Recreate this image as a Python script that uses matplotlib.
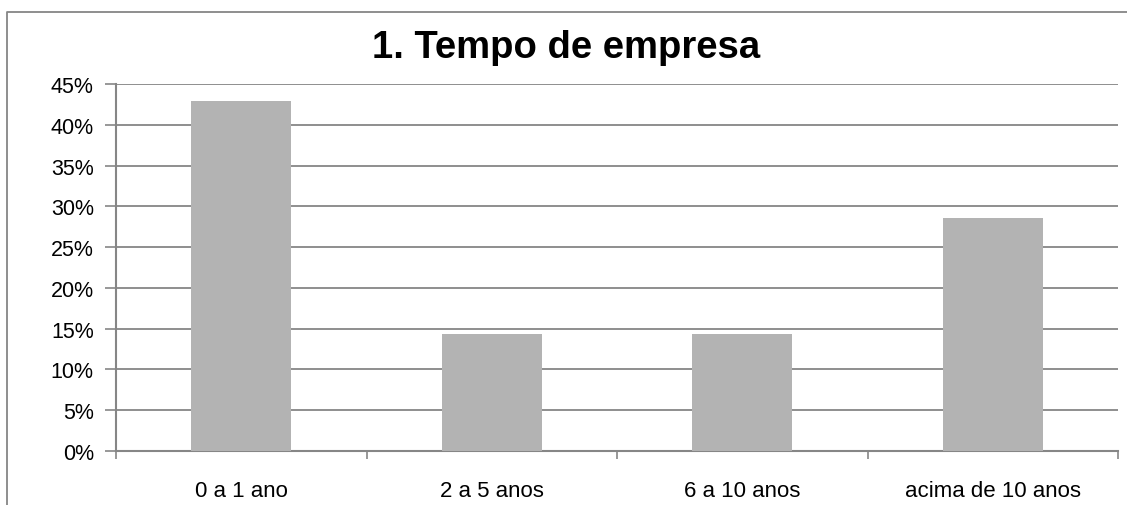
import matplotlib
matplotlib.use("Agg")
import matplotlib.pyplot as plt
from matplotlib.lines import Line2D
from matplotlib.ticker import FuncFormatter, MultipleLocator
import numpy as np

# Survey results: share of respondents by time with the company
categories = ["0 a 1 ano", "2 a 5 anos", "6 a 10 anos", "acima de 10 anos"]
shares = [3 / 7, 1 / 7, 1 / 7, 2 / 7]
title = "1. Tempo de empresa"

W, H = 1127, 506
DPI = 100
plt.rcParams["font.family"] = ["Liberation Sans", "DejaVu Sans"]

GRID = "#868686"
BAR = "#b3b3b3"

fig = plt.figure(figsize=(W / DPI, H / DPI), dpi=DPI)
fig.patch.set_facecolor("white")

# chart border (top and left edges)
fig.add_artist(Line2D([7 / W, 7 / W, 1.0], [0.0, 1 - 13 / H, 1 - 13 / H],
                      transform=fig.transFigure, color=GRID, lw=1.3))

left, right, top, bottom = 116, 1118, 85, 452
ax = fig.add_axes([left / W, 1 - bottom / H, (right - left) / W, (bottom - top) / H])

x = np.arange(len(categories))
ax.bar(x, shares, width=0.4, color=BAR, zorder=3)

ax.set_xlim(-0.5, len(categories) - 0.5)
ax.set_ylim(0, 0.45)
ax.yaxis.set_major_locator(MultipleLocator(0.05))
ax.yaxis.set_major_formatter(FuncFormatter(lambda v, _: f"{v * 100:.0f}%"))
ax.grid(axis="y", color=GRID, lw=1.3, zorder=0)
ax.set_axisbelow(True)

ax.set_xticks(x)
ax.set_xticklabels(categories)
ax.set_xticks(np.arange(len(categories) + 1) - 0.5, minor=True)
ax.tick_params(axis="x", which="major", length=0, pad=21, labelsize=16)
ax.tick_params(axis="x", which="minor", length=6, width=1.2, color=GRID, direction="out")
ax.tick_params(axis="y", length=8, width=1.2, color=GRID, direction="out", pad=8, labelsize=15.5)

for s in ("top", "right"):
    ax.spines[s].set_visible(False)
for s in ("left", "bottom"):
    ax.spines[s].set_color(GRID)
    ax.spines[s].set_linewidth(1.5)

fig.text(566 / W, 1 - 58 / H, title, ha="center", va="baseline",
         fontsize=27.5, fontweight="bold")

fig.savefig("out.png", dpi=DPI, facecolor="white")
